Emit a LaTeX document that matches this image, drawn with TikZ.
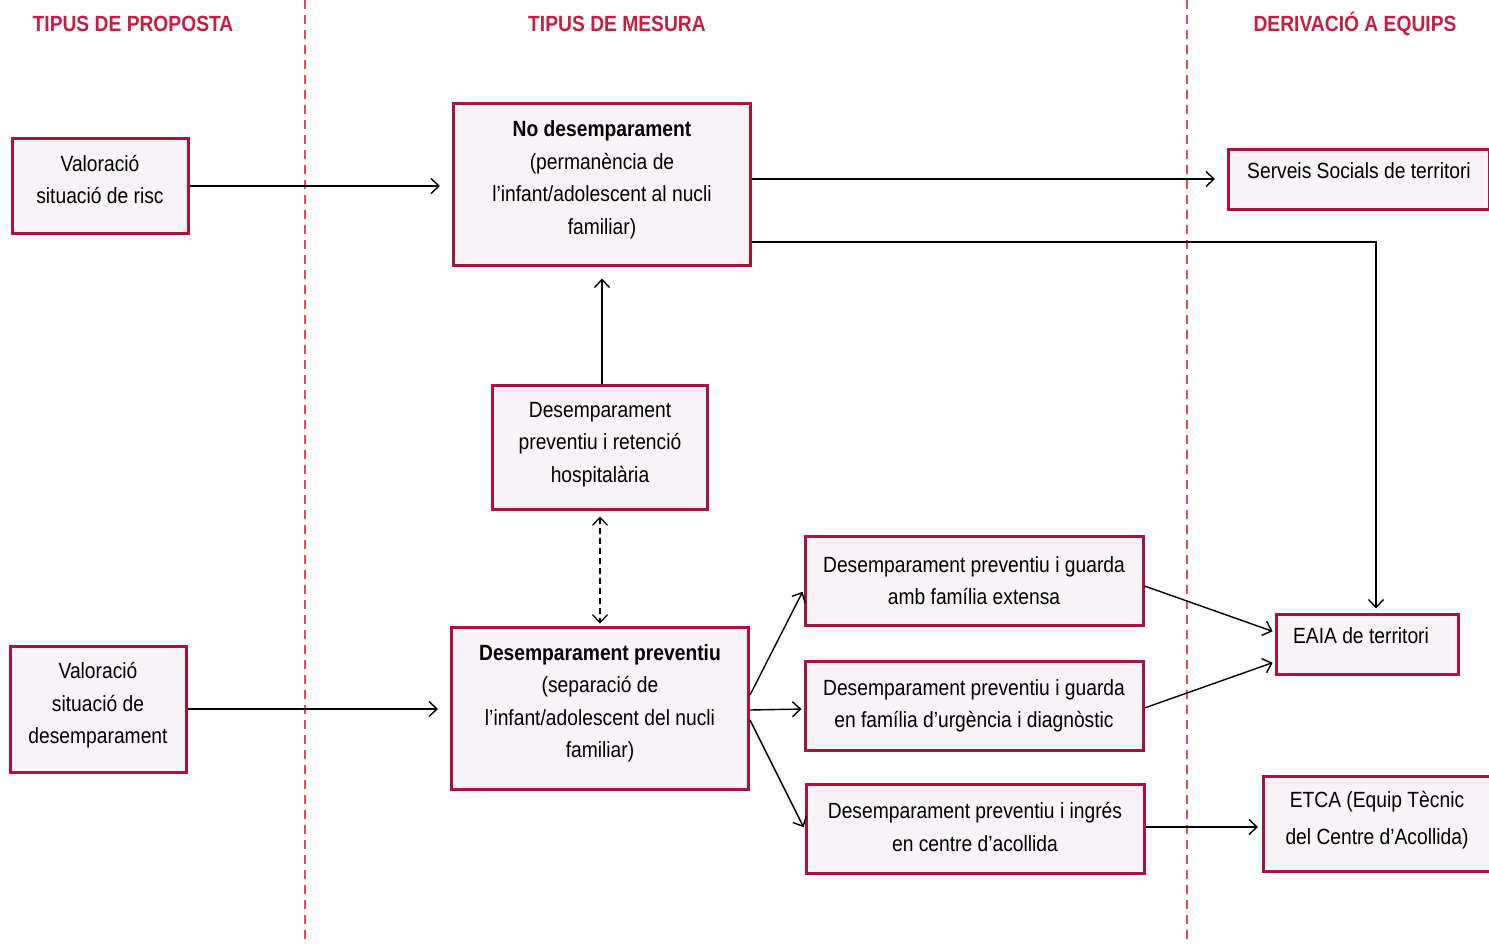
\documentclass[tikz,border=0pt]{standalone}
\usepackage{fontspec}
\setmainfont{Liberation Sans}[FakeStretch=0.875]
\usetikzlibrary{arrows.meta}
\definecolor{granat}{RGB}{172,18,62}
\definecolor{rosat}{RGB}{248,243,246}
\definecolor{titol}{RGB}{196,30,70}
\definecolor{ratlla}{RGB}{212,80,92}
\tikzset{
	marc/.style={draw=granat, fill=rosat, line width=3pt, align=center, inner sep=0pt,
		font=\fontsize{22}{32.5}\selectfont},
	caixa/.style={marc, execute at end node={\rule[-#1]{0pt}{1pt}}},
	caixa/.default=13pt,
	fletxa/.style={-{Straight Barb[length=8pt,width=15pt]}, line width=1.4pt, shorten >=12pt},
	titol/.style={text=titol, font=\fontsize{22}{26}\selectfont\bfseries},
	separa/.style={draw=ratlla, line width=1.1pt, dash pattern=on 9pt off 6pt}
}

\begin{document}
\begin{tikzpicture}[x=1pt, y=-1pt]
			%%%%% START %%%%%
			\useasboundingbox (0, 0) rectangle (1489, 945);
			
			\draw[separa] (305, 0) -- (305, 945);
			\draw[separa] (1187, 0) -- (1187, 945);
			
			\node[titol] (t1) at (133, 24) {TIPUS DE PROPOSTA};
			\node[titol] (t2) at (617, 24) {TIPUS DE MESURA};
			\node[titol] (t3) at (1355, 24) {DERIVACIÓ A EQUIPS};
			
			\node[caixa, minimum width=176, minimum height=95] (risc) at (100, 186) {Valoració\\situació de risc};
			\node[caixa=12pt, minimum width=176, minimum height=126] (desemp) at (98, 709) {Valoració\\situació de\\desemparament};
			
			\node[caixa, minimum width=297, minimum height=162] (nodesemp) at (602, 184) {\textbf{No desemparament}\\(permanència de\\l’infant/adolescent al nucli\\familiar)};
			\node[caixa=10pt, minimum width=215, minimum height=124] (hosp) at (600, 447) {Desemparament\\preventiu i retenció\\hospitalària};
			\node[caixa=14pt, minimum width=297, minimum height=162] (prev) at (600, 708) {\textbf{Desemparament preventiu}\\(separació de\\l’infant/adolescent del nucli\\familiar)};
			
			\node[caixa=1pt, minimum width=338, minimum height=89] (extensa) at (974, 581) {Desemparament preventiu i guarda\\amb família extensa};
			\node[caixa=4pt, minimum width=338, minimum height=89] (urgencia) at (974, 706) {Desemparament preventiu i guarda\\en família d’urgència i diagnòstic};
			\node[caixa=4pt, minimum width=338, minimum height=89] (ingres) at (975, 829) {Desemparament preventiu i ingrés\\en centre d’acollida};
			
			\node[caixa=16pt, minimum width=261, minimum height=60] (serveis) at (1359, 179) {Serveis Socials de territori};
			\node[caixa=16pt, minimum width=182, minimum height=60] (eaia) at (1367, 644) {EAIA de territori\hspace*{12pt}};
			\node[caixa=12pt, minimum width=227, minimum height=95] (etca) at (1377, 824) {ETCA (Equip Tècnic\\[4pt]del Centre d’Acollida)};
			
			\coordinate (gir) at (1376, 242);
			
			\draw[fletxa] (risc.east) -- (risc.east -| nodesemp.west);
			\draw[fletxa] (desemp.east) -- (desemp.east -| prev.west);
			\draw[fletxa] (nodesemp.east |- serveis.west) -- (serveis.west);
			\draw[fletxa, shorten >=4pt] (nodesemp.east |- gir) -- (gir) -- (eaia.north -| gir);
			\draw[fletxa] (hosp.north -| nodesemp.south) -- (nodesemp.south);
			\draw[{Straight Barb[length=8pt,width=15pt]}-{Straight Barb[length=8pt,width=15pt]}, line width=1.2pt, dash pattern=on 6pt off 4pt, shorten <=6pt, shorten >=2pt] (hosp.south) -- (prev.north);
			
			\draw[fletxa, shorten >=2pt] ([yshift=13pt]prev.east) -- ([yshift=-9pt]extensa.west);
			\draw[fletxa, shorten >=2pt] ([yshift=-2pt]prev.east) -- ([yshift=-3pt]urgencia.west);
			\draw[fletxa, shorten >=2pt] ([yshift=-12pt]prev.east) -- (ingres.west);
			
			\draw[fletxa, shorten >=2pt] ([yshift=-5pt]extensa.east) -- ([yshift=12pt]eaia.west);
			\draw[fletxa, shorten >=2pt] ([yshift=-2pt]urgencia.east) -- ([yshift=-18pt]eaia.west);
			\draw[fletxa, shorten >=4pt] ([yshift=2pt]ingres.east) -- ([yshift=2pt]ingres.east -| etca.west);
			%%%%% END %%%%%
		\end{tikzpicture}
\end{document}
